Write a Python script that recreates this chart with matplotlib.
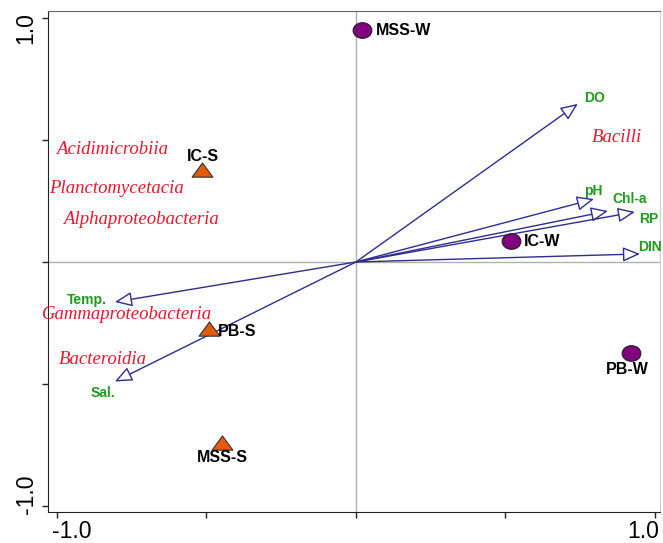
import matplotlib
matplotlib.use("Agg")
import matplotlib.pyplot as plt
import numpy as np
from matplotlib.path import Path
from matplotlib.transforms import blended_transform_factory, ScaledTranslation, Affine2D

# ---- data ----
site_names = ["MSS-W", "IC-W", "PB-W", "IC-S", "PB-S", "MSS-S"]
site_x = [0.02, 0.52, 0.92, -0.515, -0.49, -0.448]
site_y = [0.95, 0.086, -0.373, 0.377, -0.275, -0.742]
site_season = ["W", "W", "W", "S", "S", "S"]

env_names = ["DO", "pH", "Chl-a", "RP", "DIN", "Temp.", "Sal."]
env_x = [0.742, 0.796, 0.843, 0.933, 0.95, -0.806, -0.806]
env_y = [0.648, 0.258, 0.209, 0.205, 0.033, -0.164, -0.49]

taxa_names = ["Acidimicrobiia", "Planctomycetacia", "Alphaproteobacteria",
              "Bacilli", "Gammaproteobacteria", "Bacteroidia"]
taxa_x = [-0.815, -0.802, -0.719, 0.872, -0.766, -0.846]
taxa_y = [0.463, 0.303, 0.176, 0.512, -0.217, -0.398]

x_ticks = [-1.0, -0.5, 0.0, 0.5, 1.0]
y_ticks = [-1.0, -0.5, 0.0, 0.5, 1.0]
tick_labels = {-1.0: "-1.0", 1.0: "1.0"}

# ---- markers (horizontally stretched like the reference) ----
ellipse = Path.unit_circle().transformed(Affine2D().scale(1.2, 1.0))
tri = Path([(-1.25, -0.8), (1.25, -0.8), (0, 0.9), (-1.25, -0.8)],
           [Path.MOVETO, Path.LINETO, Path.LINETO, Path.CLOSEPOLY])

# ---- figure ----
fig = plt.figure(figsize=(6.63, 5.43), dpi=100)
ax = fig.add_axes([48/663, 1-512/543, (660-48)/663, (512-11)/543])
ax.set_xlim(-1.030, 1.017)
ax.set_ylim(-1.025, 1.029)

ax.axhline(0, color="#b0b0b0", lw=1, zorder=0)
ax.axvline(0, color="#b0b0b0", lw=1, zorder=0)

for s in ["left", "bottom"]:
    ax.spines[s].set_color("#222222")
ax.spines["top"].set_color("#666666")
ax.spines["right"].set_color("#cccccc")

ax.set_xticks(x_ticks)
ax.set_yticks(y_ticks)
ax.set_xticklabels([])
ax.set_yticklabels([])
ax.tick_params(direction="out", length=4, width=1, color="#222222")

# tick labels (only at ends), shifted inward like the reference
bx = blended_transform_factory(ax.transData, ax.transAxes)
by = blended_transform_factory(ax.transAxes, ax.transData)
for v, lab in tick_labels.items():
    dx = 15 if v < 0 else -12
    ax.text(v, 0, lab, transform=bx + ScaledTranslation(dx/100, -20/100, fig.dpi_scale_trans),
            ha="center", va="center", fontsize=16.5, family="Liberation Sans", clip_on=False)
    dy = 12 if v < 0 else -10
    ax.text(0, v, lab, transform=by + ScaledTranslation(-22/100, dy/100, fig.dpi_scale_trans),
            ha="center", va="center", rotation=90, fontsize=16.5, family="Liberation Sans",
            clip_on=False)

# arrows
arrow_col = "#2d2d8f"
for x, y in zip(env_x, env_y):
    ax.annotate("", xy=(x, y), xytext=(0, 0),
                arrowprops=dict(arrowstyle="-|>,head_length=0.75,head_width=0.32",
                                fc="white", ec=arrow_col, lw=1.0,
                                shrinkA=0, shrinkB=0, mutation_scale=14),
                zorder=2)

# env labels (pixel offsets relative to tip)
env_offsets = {"DO": (17, 6), "pH": (-1, 8), "Chl-a": (22, 12), "RP": (14, -7),
               "DIN": (10, 7), "Temp.": (-28, 2), "Sal.": (-12, -11)}
for n, x, y in zip(env_names, env_x, env_y):
    ox, oy = env_offsets[n]
    ax.annotate(n, xy=(x, y), xytext=(ox*0.72, oy*0.72), textcoords="offset points",
                ha="center", va="center", color="#1e9a1e", fontsize=10,
                fontweight="bold", family="Liberation Sans", zorder=4)

# sites
for n, x, y, s in zip(site_names, site_x, site_y, site_season):
    if s == "W":
        ax.plot(x, y, marker=ellipse, ms=13.5, mfc="#800080", mec="#222222", mew=0.8,
                ls="none", zorder=3)
    else:
        ax.plot(x, y, marker=tri, ms=15, mfc="#e35a05", mec="#333333", mew=0.8,
                ls="none", zorder=3)

site_offsets = {"MSS-W": (14, 0, "left"), "IC-W": (12, 0, "left"),
                "PB-W": (-4, -17, "center"), "IC-S": (1, 14, "center"),
                "PB-S": (8, -2, "left"), "MSS-S": (0, -15, "center")}
for n, x, y in zip(site_names, site_x, site_y):
    ox, oy, ha = site_offsets[n]
    ax.annotate(n, xy=(x, y), xytext=(ox*0.72, oy*0.72), textcoords="offset points",
                ha=ha, va="center", color="black", fontsize=11.5,
                fontweight="bold", family="Liberation Sans", zorder=4)

# taxa
for n, x, y in zip(taxa_names, taxa_x, taxa_y):
    ax.text(x, y, n, ha="center", va="center", color="#e8172e", fontsize=13.5,
            style="italic", family="Liberation Serif", zorder=4)

fig.savefig("out.png", dpi=100)
